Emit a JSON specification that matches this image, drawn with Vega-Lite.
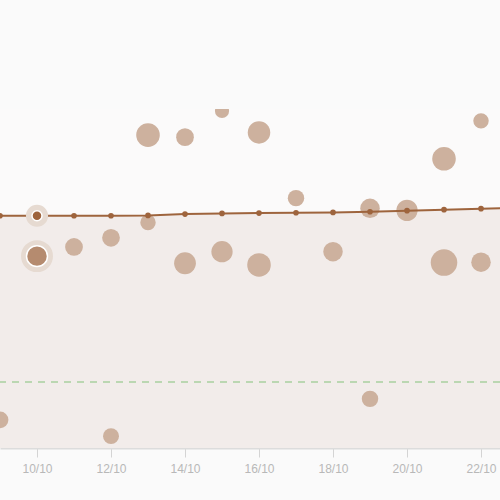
{
  "$schema": "https://vega.github.io/schema/vega-lite/v6.json",
  "autosize": {"type": "none"},
  "width": 500,
  "height": 339,
  "padding": {"top": 109, "left": 0, "right": 0, "bottom": 52},
  "background": "#fafafa",
  "config": {"view": {"stroke": null, "fill": "#fbfafa"}},
  "datasets": {
    "trend": [
      {"date": "2024/10/09", "score": 68.5, "hl": false},
      {"date": "2024/10/10", "score": 68.5, "hl": true},
      {"date": "2024/10/11", "score": 68.5, "hl": false},
      {"date": "2024/10/12", "score": 68.5, "hl": false},
      {"date": "2024/10/13", "score": 68.6, "hl": false},
      {"date": "2024/10/14", "score": 69.0, "hl": false},
      {"date": "2024/10/15", "score": 69.2, "hl": false},
      {"date": "2024/10/16", "score": 69.3, "hl": false},
      {"date": "2024/10/17", "score": 69.4, "hl": false},
      {"date": "2024/10/18", "score": 69.5, "hl": false},
      {"date": "2024/10/19", "score": 69.7, "hl": false},
      {"date": "2024/10/20", "score": 70.0, "hl": false},
      {"date": "2024/10/21", "score": 70.3, "hl": false},
      {"date": "2024/10/22", "score": 70.6, "hl": false},
      {"date": "2024/10/23", "score": 70.9, "hl": false}
    ],
    "obs": [
      {"date": "2024/10/09", "score": 8.3, "n": 90, "hl": false},
      {"date": "2024/10/10", "score": 56.6, "n": 140, "hl": true},
      {"date": "2024/10/11", "score": 59.3, "n": 100, "hl": false},
      {"date": "2024/10/12", "score": 62.0, "n": 100, "hl": false},
      {"date": "2024/10/12", "score": 3.5, "n": 81, "hl": false},
      {"date": "2024/10/13", "score": 92.3, "n": 177, "hl": false},
      {"date": "2024/10/13", "score": 66.5, "n": 76, "hl": false},
      {"date": "2024/10/14", "score": 91.7, "n": 100, "hl": false},
      {"date": "2024/10/14", "score": 54.5, "n": 151, "hl": false},
      {"date": "2024/10/15", "score": 99.4, "n": 64, "hl": false},
      {"date": "2024/10/15", "score": 57.9, "n": 144, "hl": false},
      {"date": "2024/10/16", "score": 93.1, "n": 161, "hl": false},
      {"date": "2024/10/16", "score": 54.0, "n": 177, "hl": false},
      {"date": "2024/10/17", "score": 73.7, "n": 86, "hl": false},
      {"date": "2024/10/18", "score": 57.9, "n": 121, "hl": false},
      {"date": "2024/10/19", "score": 70.7, "n": 121, "hl": false},
      {"date": "2024/10/19", "score": 14.5, "n": 86, "hl": false},
      {"date": "2024/10/20", "score": 70.1, "n": 144, "hl": false},
      {"date": "2024/10/21", "score": 85.3, "n": 177, "hl": false},
      {"date": "2024/10/21", "score": 54.7, "n": 225, "hl": false},
      {"date": "2024/10/22", "score": 96.5, "n": 76, "hl": false},
      {"date": "2024/10/22", "score": 54.8, "n": 121, "hl": false}
    ],
    "target": [{"score": 19.5}]
  },
  "encoding": {
    "x": {
      "field": "date",
      "type": "temporal",
      "scale": {
        "domain": [
          {"year": 2024, "month": 10, "date": 9},
          {"year": 2024, "month": 10, "date": 22, "hours": 12, "minutes": 19}
        ]
      },
      "axis": {
        "title": null,
        "format": "%d/%m",
        "values": [
          {"year": 2024, "month": 10, "date": 10},
          {"year": 2024, "month": 10, "date": 12},
          {"year": 2024, "month": 10, "date": 14},
          {"year": 2024, "month": 10, "date": 16},
          {"year": 2024, "month": 10, "date": 18},
          {"year": 2024, "month": 10, "date": 20},
          {"year": 2024, "month": 10, "date": 22}
        ],
        "grid": false,
        "domainColor": "#dcdcdc",
        "domainWidth": 2,
        "tickColor": "#d4d4d4",
        "tickWidth": 1,
        "tickSize": 9,
        "labelColor": "#b8b8b8",
        "labelFont": "Liberation Sans",
        "labelFontSize": 12,
        "labelPadding": 6
      }
    },
    "y": {
      "field": "score",
      "type": "quantitative",
      "scale": {"domain": [0, 100], "nice": false},
      "axis": null
    }
  },
  "layer": [
    {
      "data": {"name": "trend"},
      "mark": {"type": "area", "color": "#f2ecea", "clip": true}
    },
    {
      "data": {"name": "target"},
      "mark": {"type": "rule", "color": "#a9d0a0", "strokeWidth": 1.5, "strokeDash": [7, 6]},
      "encoding": {"x": null}
    },
    {
      "data": {"name": "obs"},
      "transform": [{"filter": "datum.hl"}],
      "mark": {"type": "circle", "filled": false, "stroke": "#e6dad1", "strokeWidth": 11, "opacity": 1, "clip": true},
      "encoding": {
        "size": {"field": "n", "type": "quantitative", "scale": {"type": "linear", "domain": [0, 100], "range": [0, 314]}, "legend": null}
      }
    },
    {
      "data": {"name": "obs"},
      "mark": {"type": "circle", "opacity": 1, "clip": true},
      "encoding": {
        "size": {"field": "n", "type": "quantitative", "scale": {"type": "linear", "domain": [0, 100], "range": [0, 314]}, "legend": null},
        "color": {"condition": {"test": "datum.hl", "value": "#b58b6f"}, "value": "#cdb19e"},
        "stroke": {"condition": {"test": "datum.hl", "value": "#ffffff"}, "value": null},
        "strokeWidth": {"value": 1.5}
      }
    },
    {
      "data": {"name": "trend"},
      "mark": {"type": "line", "color": "#9e643d", "strokeWidth": 2, "clip": true}
    },
    {
      "data": {"name": "trend"},
      "transform": [{"filter": "datum.hl"}],
      "mark": {"type": "circle", "filled": false, "stroke": "#e6dad1", "strokeWidth": 8, "size": 200, "opacity": 1, "clip": true}
    },
    {
      "data": {"name": "trend"},
      "mark": {"type": "circle", "opacity": 1, "clip": true},
      "encoding": {
        "size": {"condition": {"test": "datum.hl", "value": 100}, "value": 32},
        "color": {"value": "#9e643d"},
        "stroke": {"condition": {"test": "datum.hl", "value": "#ffffff"}, "value": null},
        "strokeWidth": {"value": 1.5}
      }
    }
  ]
}
